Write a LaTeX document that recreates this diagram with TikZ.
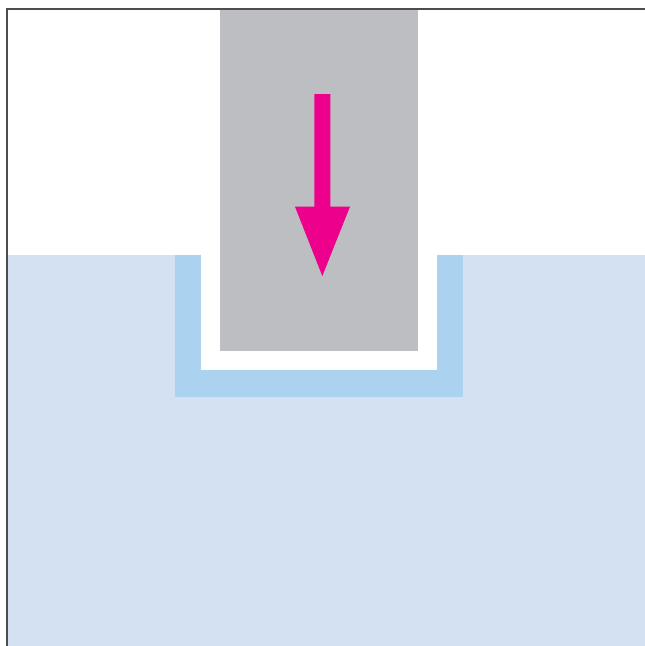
\documentclass[tikz,border=0pt]{standalone}
\usetikzlibrary{positioning}
\definecolor{fluidblue}{HTML}{D4E1F2}
\definecolor{linerblue}{HTML}{ABD3EF}
\definecolor{plungergray}{HTML}{BCBEC2}
\definecolor{pushmagenta}{HTML}{EC008C}
\definecolor{frameink}{HTML}{4D4D4D}

\begin{document}
\begin{tikzpicture}[x=.05cm,y=-.05cm]
    \useasboundingbox (0,0) rectangle (645,646);
    % fluid and liner
    \fill[fluidblue] (7,255) rectangle (645,646);
    \fill[linerblue] (175,255) rectangle (463,396.5);
    \fill[white] (201,255) rectangle (436.5,370);
    % plunger
    \fill[plungergray] (220,9) rectangle (417.5,350.7);
    \fill[pushmagenta] (314.3,94) -- (330.3,94) -- (330.3,206.7) -- (350,206.7)
      -- (322.3,276) -- (295,206.7) -- (314.3,206.7) -- cycle;
    % frame
    \draw[frameink,line width=.65mm] (7,646) -- (7,9) -- (645,9);
  \end{tikzpicture}
\end{document}
